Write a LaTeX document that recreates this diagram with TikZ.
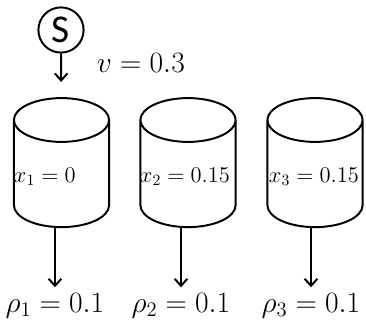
\RequirePackage{fix-cm}
\documentclass[tikz,border=0pt]{standalone}
\usepackage{fontspec}
\newfontfamily\calibri{Carlito}
\usetikzlibrary{shapes.geometric}
\usetikzlibrary{arrows.meta}

\begin{document}
\begin{tikzpicture}[auto, x=0.025cm, y=-0.025cm, line width=1.4pt,
    >={Straight Barb[length=5pt,width=9pt]},
    tank/.style={shape=cylinder, shape border rotate=90, draw=black, aspect=0.46,
      minimum width=2.375cm, minimum height=3.225cm, inner xsep=1.19cm, inner ysep=0.5cm},
    big/.style={font=\fontsize{21}{25}\selectfont},
    small/.style={font=\fontsize{16}{19}\selectfont, anchor=base west, inner sep=0pt}]
    \useasboundingbox (0,0) rectangle (366,323);

    \node[shape=circle,draw=black,minimum size=1.13cm,inner sep=0pt,
      font=\calibri\fontsize{28}{30}\selectfont] (s) at (61,30) {S};
    \node[big, anchor=base west, inner sep=0pt] (v) at (96,72) {$v = 0.3$};

    \node[tank] (t1) at (61.5,185) {};
    \node[tank] (t2) at (188,185) {};
    \node[tank] (t3) at (315,185) {};

    \node[small] (x1) at (13,182) {$x_1 = 0$};
    \node[small] (x2) at (139,182) {$x_2 = 0.15$};
    \node[small] (x3) at (268,182) {$x_3 = 0.15$};

    \node[big, anchor=base] (r1) at (55,312) {$\rho_1 = 0.1$};
    \node[big, anchor=base] (r2) at (181,312) {$\rho_2 = 0.1$};
    \node[big, anchor=base] (r3) at (311,312) {$\rho_3 = 0.1$};

    \path[->]
    (s) edge[shorten >=0.38cm] (t1)
    (t1.south -| r1) edge (r1)
    (t2.south -| r2) edge (r2)
    (t3.south -| r3) edge (r3);
\end{tikzpicture}
\end{document}
